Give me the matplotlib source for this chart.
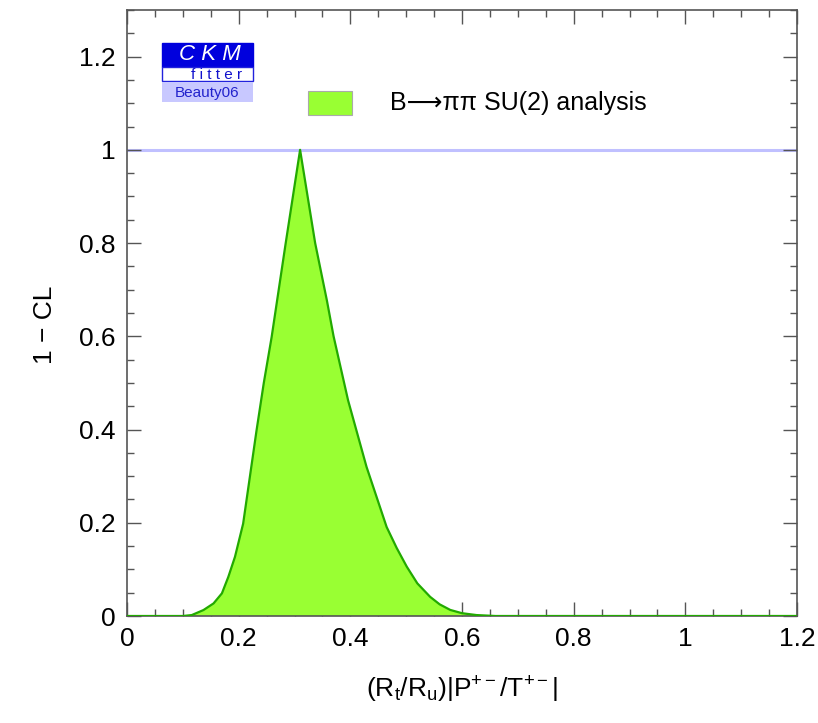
import matplotlib
matplotlib.use("Agg")
import matplotlib.pyplot as plt
import numpy as np
from matplotlib.patches import Rectangle

plt.rcParams['font.family'] = ['Liberation Sans', 'DejaVu Sans']
plt.rcParams['mathtext.fontset'] = 'custom'
plt.rcParams['mathtext.rm'] = 'Liberation Sans'
plt.rcParams['mathtext.it'] = 'Liberation Sans:italic'

# 1-CL scan of (Rt/Ru)|P+-/T+-|
x_vals = [0.0, 0.10, 0.116, 0.137, 0.155, 0.17, 0.1815, 0.1934, 0.208, 0.22, 0.232,
          0.245, 0.259, 0.284, 0.31, 0.337, 0.358, 0.37, 0.396, 0.429, 0.465,
          0.483, 0.501, 0.52, 0.543, 0.56, 0.579, 0.60, 0.626, 0.66, 1.2]
cl_vals = [0.0, 0.0, 0.002, 0.0128, 0.027, 0.0486, 0.084, 0.127, 0.198, 0.298, 0.398,
           0.5, 0.598, 0.798, 1.0, 0.8, 0.677, 0.6, 0.4625, 0.32, 0.191,
           0.146, 0.106, 0.07, 0.041, 0.025, 0.013, 0.006, 0.002, 0.0, 0.0]

legend_label = "B\u27f6\u03c0\u03c0 SU(2) analysis"
xlabel = r"(R$_{\mathregular{t}}$/R$_{\mathregular{u}}$)|P$^{\mathregular{+-}}$/T$^{\mathregular{+-}}$|"
ylabel = "1 \u2212 CL"

fill_col = '#99ff33'
edge_col = '#22aa00'

fig = plt.figure(figsize=(8.18, 7.23), dpi=100)
ax = fig.add_axes([127/818, 1 - 616/723, 670/818, 606/723])

ax.fill_between(x_vals, cl_vals, 0, facecolor=fill_col, edgecolor='none', zorder=2)
ax.plot(x_vals, cl_vals, color=edge_col, lw=1.6, zorder=3)
ax.axhline(1.0, color='#c0c0ff', lw=2.2, zorder=1)

ax.set_xlim(0, 1.2)
ax.set_ylim(0, 1.3)
ax.set_xticks(np.arange(0, 1.21, 0.2))
ax.set_xticklabels(['0', '0.2', '0.4', '0.6', '0.8', '1', '1.2'])
ax.set_yticks(np.arange(0, 1.21, 0.2))
ax.set_yticklabels(['0', '0.2', '0.4', '0.6', '0.8', '1', '1.2'])
ax.set_xticks(np.arange(0, 1.201, 0.05), minor=True)
ax.set_yticks(np.arange(0, 1.301, 0.05), minor=True)
ax.tick_params(which='both', direction='in', top=True, right=True, color='#555555')
ax.tick_params(which='major', length=10, width=1, labelsize=19, pad=8)
ax.tick_params(which='minor', length=5, width=1)
for s in ax.spines.values():
    s.set_color('#555555')
    s.set_linewidth(1.2)

fig.text(462/818, 1 - 690/723, xlabel, ha='center', va='center', fontsize=19)
fig.text(45/818, 1 - 325/723, ylabel, ha='center', va='center', fontsize=19, rotation=90)

# legend entry
fig.patches.append(Rectangle((308/818, 1 - 115/723), 44/818, 24/723, transform=fig.transFigure,
                             facecolor=fill_col, edgecolor='#aaaaaa', lw=0.8))
fig.text(390/818, 1 - 103/723, legend_label, ha='left', va='center', fontsize=18)

# CKMfitter logo
bx, bw = 162/818, 91/818
fig.patches.append(Rectangle((bx, 1 - 67/723), bw, 24/723, transform=fig.transFigure,
                             facecolor='#0000dd', edgecolor='#0000dd', lw=1))
fig.patches.append(Rectangle((bx, 1 - 81/723), bw, 14/723, transform=fig.transFigure,
                             facecolor='white', edgecolor='#2222dd', lw=1))
fig.patches.append(Rectangle((bx, 1 - 102/723), bw, 20/723, transform=fig.transFigure,
                             facecolor='#c8c8ff', edgecolor='none'))
fig.text(210/818, 1 - 55/723, 'C K M', ha='center', va='center', fontsize=16,
         style='italic', color='white')
fig.text(217/818, 1 - 75/723, 'f i t t e r', ha='center', va='center', fontsize=11,
         color='#1111cc')
fig.text(207/818, 1 - 93/723, 'Beauty06', ha='center', va='center', fontsize=11,
         color='#2222cc')

fig.savefig('out.png', dpi=100)
